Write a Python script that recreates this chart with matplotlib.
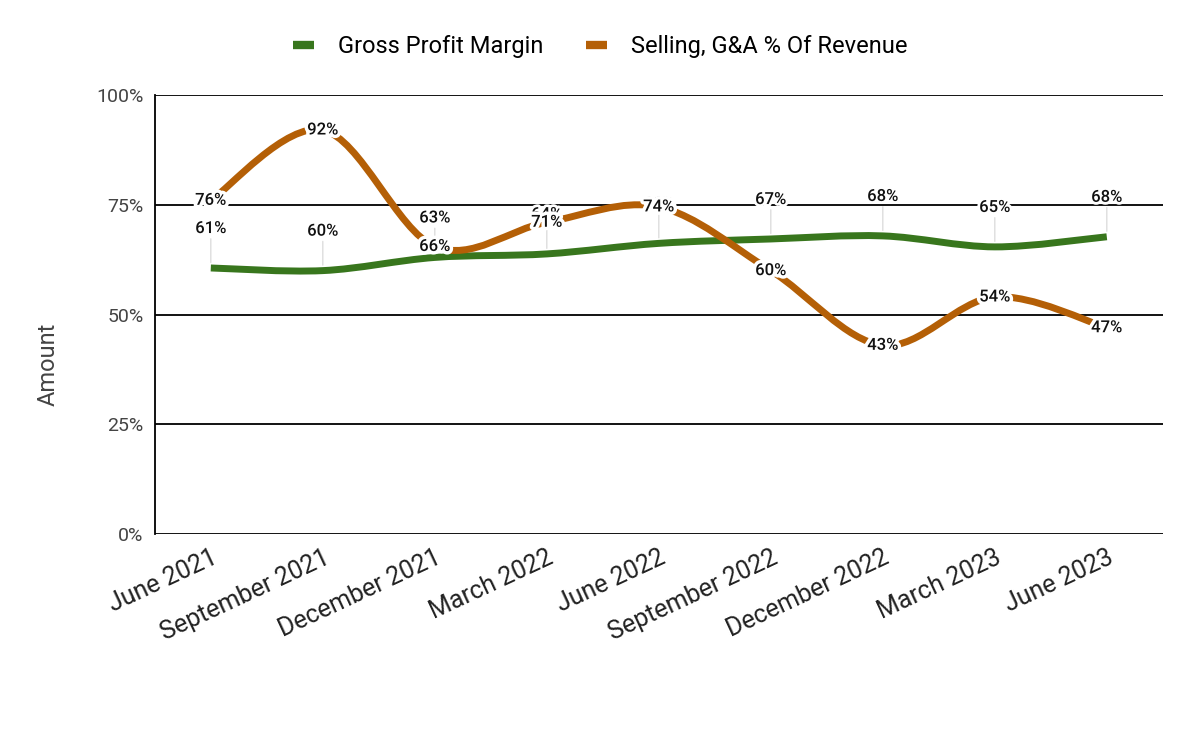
import numpy as np
import matplotlib.pyplot as plt
from matplotlib.path import Path
from matplotlib.patches import PathPatch
from matplotlib.lines import Line2D
import matplotlib.patheffects as pe

plt.rcParams["font.family"] = ["Roboto", "DejaVu Sans"]

quarters = ["June 2021", "September 2021", "December 2021", "March 2022", "June 2022",
            "September 2022", "December 2022", "March 2023", "June 2023"]
gross_margin = [60.6, 60.0, 63.0, 63.8, 66.2, 67.2, 67.9, 65.4, 67.7]
sga_pct = [76.0, 92.0, 65.5, 71.0, 74.5, 60.0, 43.0, 54.0, 47.0]

GREEN = "#38761d"
ORANGE = "#b45f06"


def smooth_path(xs, ys):
    # catmull-rom style cubic bezier through the points
    pts = np.column_stack([xs, ys])
    n = len(pts)
    verts = [pts[0]]
    codes = [Path.MOVETO]
    for i in range(n - 1):
        p0 = pts[i - 1] if i > 0 else pts[i]
        p1 = pts[i]
        p2 = pts[i + 1]
        p3 = pts[i + 2] if i + 2 < n else pts[i + 1]
        c1 = p1 + (p2 - p0) / 6.0
        c2 = p2 - (p3 - p1) / 6.0
        verts += [c1, c2, p2]
        codes += [Path.CURVE4] * 3
    return Path(verts, codes)


fig = plt.figure(figsize=(12, 7.41), dpi=100)
ax = fig.add_axes([0.129, 0.279, 0.84, 0.593])

x = np.arange(len(quarters))

ax.add_patch(PathPatch(smooth_path(x, gross_margin), facecolor="none", edgecolor=GREEN,
                       lw=5, capstyle="butt", zorder=3))
halo = [pe.withStroke(linewidth=4, foreground="white")]
for xi, v in zip(x, gross_margin):
    ax.annotate(f"{round(v):.0f}%", (xi, v), xytext=(0, 23), textcoords="offset points",
                ha="center", va="bottom", fontsize=12, fontweight="medium", color="#111111",
                path_effects=halo, zorder=4,
                arrowprops=dict(arrowstyle="-", color="#dddddd", lw=1, shrinkA=0, shrinkB=4))

ax.add_patch(PathPatch(smooth_path(x, sga_pct), facecolor="none", edgecolor=ORANGE,
                       lw=5, capstyle="butt", zorder=5))
for xi, v in zip(x, sga_pct):
    ax.text(xi, v, f"{round(v):.0f}%", ha="center", va="center", fontsize=12,
            fontweight="medium", color="#111111", zorder=6,
            path_effects=[pe.withStroke(linewidth=5, foreground="white")])

ax.set_xlim(-0.5, len(quarters) - 0.5)
ax.set_ylim(0, 100)
ax.set_yticks([0, 25, 50, 75, 100])
ax.set_yticklabels([f"{t}%" for t in [0, 25, 50, 75, 100]], fontsize=14, color="#444444")
ax.set_xticks(x)
ax.set_xticklabels(quarters, rotation=25, ha="right", rotation_mode="anchor",
                   fontsize=18, color="#222222")
ax.tick_params(axis="x", length=0, pad=8)
ax.tick_params(axis="y", length=0, pad=8)
ax.grid(axis="y", color="black", lw=1.3, zorder=1)
ax.set_axisbelow(True)
for side in ["top", "right", "bottom"]:
    ax.spines[side].set_visible(False)
ax.spines["left"].set_color("black")
ax.spines["left"].set_linewidth(1.3)

ax.set_ylabel("Amount", fontsize=17, color="#444444")
ax.yaxis.set_label_coords(-0.094, 0.387)

handles = [Line2D([], [], color=GREEN, lw=6, solid_capstyle="butt"),
           Line2D([], [], color=ORANGE, lw=6, solid_capstyle="butt")]
fig.legend(handles, ["Gross Profit Margin", "Selling, G&A % Of Revenue"], loc="center",
           bbox_to_anchor=(0.5, 0.937), ncol=2, frameon=False, fontsize=17,
           handlelength=0.9, columnspacing=1.8, handletextpad=1.0)

fig.savefig("out.png", dpi=100)
